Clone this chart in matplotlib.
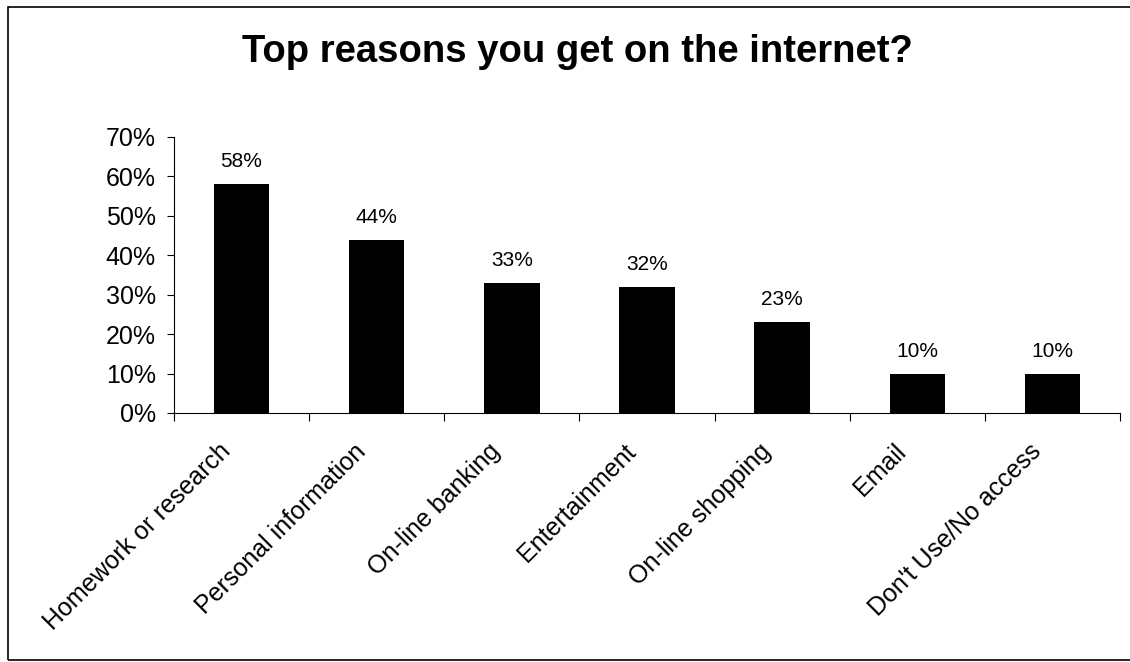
import matplotlib
matplotlib.use("Agg")
import matplotlib.pyplot as plt
import numpy as np
from matplotlib.ticker import PercentFormatter
from matplotlib.patches import Rectangle
from matplotlib.transforms import ScaledTranslation

plt.rcParams['font.family'] = ['Liberation Sans', 'DejaVu Sans']

# Dados do gráfico
categorias = ["Homework or research", "Personal information", "On-line banking",
              "Entertainment", "On-line shopping", "Email", "Don't Use/No access"]
valores = [58, 44, 33, 32, 23, 10, 10]
rotulos = ["58%", "44%", "33%", "32%", "23%", "10%", "10%"]

fig = plt.figure(figsize=(11.3, 6.62), dpi=100)
ax = fig.add_axes([174 / 1130, 1 - 413 / 662, (1120 - 174) / 1130, (413 - 137) / 662])

x = np.arange(len(categorias))
ax.bar(x, valores, width=0.41, color='black')

for xi, v, r in zip(x, valores, rotulos):
    ax.text(xi, v + 4.3, r, ha='center', va='baseline', fontsize=15)

ax.set_xlim(-0.5, len(categorias) - 0.5)
ax.set_ylim(0, 70)
ax.set_yticks(np.arange(0, 71, 10))
ax.yaxis.set_major_formatter(PercentFormatter(decimals=0))
ax.tick_params(axis='y', labelsize=18, length=5, width=0.8, direction='out', pad=8)

# ticks do eixo x nos limites das categorias
ax.set_xticks(np.arange(-0.5, len(categorias), 1))
ax.set_xticklabels([])
ax.tick_params(axis='x', length=6, width=0.8, direction='out')
ax.set_xticks(x, minor=True)
ax.set_xticklabels(categorias, minor=True, rotation=45, ha='right', va='center',
                   rotation_mode='anchor', fontsize=18)
ax.tick_params(axis='x', which='minor', length=0, pad=25)
desloc = ScaledTranslation(-15 / 100, 0, fig.dpi_scale_trans)
for lbl in ax.get_xticklabels(minor=True):
    lbl.set_transform(lbl.get_transform() + desloc)

ax.spines['top'].set_visible(False)
ax.spines['right'].set_visible(False)

fig.text(577 / 1130, 1 - 52 / 662, "Top reasons you get on the internet?",
         ha='center', va='center', fontsize=27.5, fontweight='bold')

# moldura (a borda direita fica fora da imagem)
fig.patches.append(Rectangle((8 / 1130, 2 / 662), 1.0, 653 / 662, transform=fig.transFigure,
                             fill=False, edgecolor='black', linewidth=1.2))

fig.savefig("out.png", dpi=100)
